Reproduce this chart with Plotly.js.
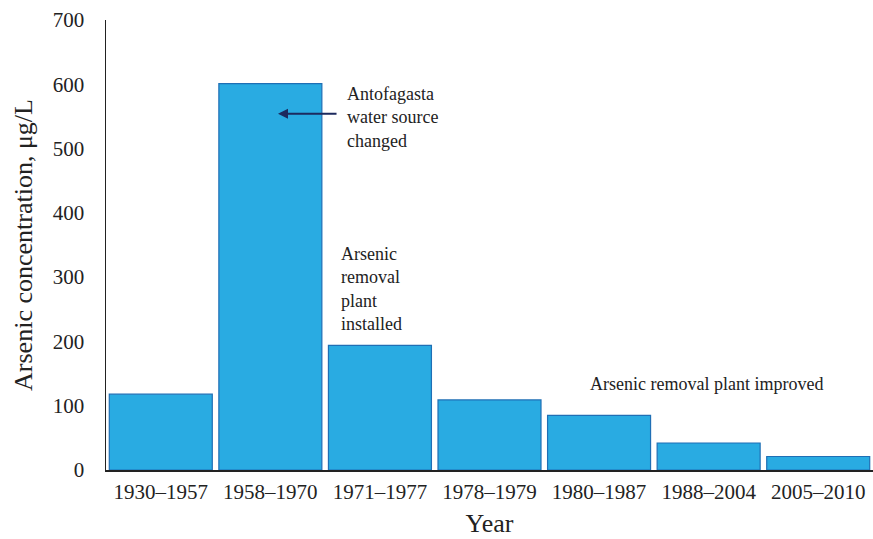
<!DOCTYPE html>
<html>
<head>
<meta charset="utf-8">
<script src="https://cdn.plot.ly/plotly-3.0.1.min.js"></script>
<style>html,body{margin:0;padding:0;background:#fff;}#chart{width:873px;height:539px;}</style>
</head>
<body>
<div id="chart"></div>
<script>
const categories = ["1930–1957", "1958–1970", "1971–1977", "1978–1979", "1980–1987", "1988–2004", "2005–2010"];
const arsenic = [118, 601, 194, 109, 85, 42, 21];
const yTicks = [0, 100, 200, 300, 400, 500, 600, 700];

const serif = "Liberation Serif";

const trace = {
  type: "bar",
  x: categories,
  y: arsenic,
  marker: { color: "#29abe2", line: { color: "#1f6fb5", width: 1.2 } },
  hoverinfo: "x+y"
};

const layout = {
  width: 873,
  height: 539,
  margin: { l: 106, r: 0, t: 20, b: 69 },
  paper_bgcolor: "#fff",
  plot_bgcolor: "#fff",
  bargap: 0.06,
  showlegend: false,
  font: { family: serif, color: "#222" },
  xaxis: {
    type: "category",
    range: [-0.5, 6.5],
    showline: true,
    linecolor: "#222",
    linewidth: 1.5,
    ticks: "",
    ticklabelstandoff: 2,
    tickfont: { family: serif, size: 21, color: "#222" },
    title: { text: "Year", font: { family: serif, size: 26, color: "#222" }, standoff: 11 }
  },
  yaxis: {
    range: [0, 700],
    tickvals: yTicks,
    ticktext: yTicks.map(String),
    showline: true,
    linecolor: "#222",
    linewidth: 1.5,
    showgrid: false,
    zeroline: false,
    ticks: "",
    ticklabelstandoff: 16,
    tickfont: { family: serif, size: 21, color: "#222" },
    title: { text: "Arsenic concentration, μg/L", font: { family: serif, size: 26, color: "#222" }, standoff: 12 }
  },
  annotations: [
    {
      xref: "x", yref: "y", x: 1.07, y: 554,
      ax: 60, ay: 0, showarrow: true, arrowhead: 2, arrowsize: 1, arrowwidth: 2,
      arrowcolor: "#1c2a5e", text: ""
    },
    {
      xref: "x", yref: "y", x: 1.68, y: 549, xanchor: "left", yanchor: "middle", align: "left",
      showarrow: false,
      text: "Antofagasta<br>water source<br>changed",
      font: { family: serif, size: 18, color: "#222" }
    },
    {
      xref: "x", yref: "y", x: 1.625, y: 281, xanchor: "left", yanchor: "middle", align: "left",
      showarrow: false,
      text: "Arsenic<br>removal<br>plant<br>installed",
      font: { family: serif, size: 18, color: "#222" }
    },
    {
      xref: "x", yref: "y", x: 4.98, y: 134, xanchor: "center", yanchor: "middle",
      showarrow: false,
      text: "Arsenic removal plant improved",
      font: { family: serif, size: 18, color: "#222" }
    }
  ]
};

Plotly.newPlot("chart", [trace], layout, { displayModeBar: false, staticPlot: true });
</script>
</body>
</html>
